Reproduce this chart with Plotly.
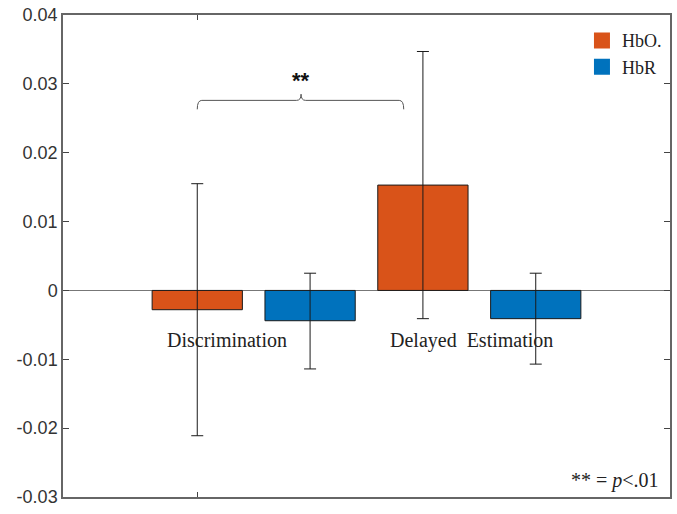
import plotly.graph_objects as go

categories = ["Discrimination", "Delayed  Estimation"]
series_names = ["HbO.", "HbR"]
hbo_values = [-0.0028, 0.0153]
hbo_err_plus = [0.0183, 0.0194]
hbo_err_minus = [0.0183, 0.0194]
hbr_values = [-0.0044, -0.0041]
hbr_err_plus = [0.0069, 0.0066]
hbr_err_minus = [0.0070, 0.0066]
y_ticks = [-0.03, -0.02, -0.01, 0, 0.01, 0.02, 0.03, 0.04]
y_tick_labels = ["-0.03", "-0.02", "-0.01", "0", "0.01", "0.02", "0.03", "0.04"]
sig_label = "<b>**</b>"
sig_note = "** = <i>p</i>&lt;.01"

colors = ["#D95319", "#0072BD"]
n_series = 2

fig = go.Figure()
all_vals = [hbo_values, hbr_values]
all_plus = [hbo_err_plus, hbr_err_plus]
all_minus = [hbo_err_minus, hbr_err_minus]
for s in range(n_series):
    xs = [n_series * i + s for i in range(len(categories))]
    fig.add_trace(go.Bar(
        x=xs, y=all_vals[s], width=0.8, name=series_names[s],
        marker=dict(color=colors[s], line=dict(color="#1a1a1a", width=1)),
        error_y=dict(type="data", array=all_plus[s], arrayminus=all_minus[s],
                     color="#1a1a1a", thickness=1, width=6),
        showlegend=False,
    ))
    fig.add_trace(go.Scatter(
        x=[None], y=[None], mode="markers", name=series_names[s],
        marker=dict(symbol="square", size=18, color=colors[s]),
    ))

# category labels
label_x = [0.26, 2.43]
for c, lx in zip(categories, label_x):
    fig.add_annotation(x=lx, y=-0.0072, text=c.replace("  ", "&nbsp; "), showarrow=False,
                       font=dict(family="Liberation Serif", size=20, color="#222"),
                       xanchor="center", yanchor="middle")

# significance bracket
bx0, bx1, bmid = 0.0, 1.83, 0.92
by, bdrop, btop = 0.0276, 0.0263, 0.0285
path = (f"M {bx0},{bdrop} Q {bx0},{by} {bx0+0.04},{by} "
        f"L {bmid-0.04},{by} Q {bmid},{by} {bmid},{btop} "
        f"Q {bmid},{by} {bmid+0.04},{by} "
        f"L {bx1-0.04},{by} Q {bx1},{by} {bx1},{bdrop}")
fig.add_shape(type="path", path=path, line=dict(color="#555", width=1),
              xref="x", yref="y")
fig.add_annotation(x=bmid, y=0.0305, text=sig_label, showarrow=False,
                   font=dict(family="Liberation Sans", size=22, color="#111"),
                   xanchor="center", yanchor="middle")
fig.add_annotation(x=0.985, y=0.035, xref="paper", yref="paper", text=sig_note,
                   showarrow=False, xanchor="right", yanchor="middle",
                   font=dict(family="Liberation Serif", size=20, color="#222"))

fig.update_layout(
    width=677, height=514,
    margin=dict(l=63, r=5, t=13, b=17),
    plot_bgcolor="white", paper_bgcolor="white",
    barmode="overlay",
    showlegend=True,
    legend=dict(x=0.995, y=0.985, xanchor="right", yanchor="top",
                bgcolor="rgba(0,0,0,0)", borderwidth=0,
                font=dict(family="Liberation Serif", size=18, color="#222"),
                itemwidth=30, tracegroupgap=2),
    xaxis=dict(range=[-1.19, 4.19], tickvals=[0], ticktext=[""],
               ticks="inside", ticklen=5, tickcolor="#444",
               showgrid=False, zeroline=False, showline=True,
               linecolor="#666", linewidth=1.5, mirror="allticks"),
    yaxis=dict(range=[-0.03, 0.04], tickvals=y_ticks, ticktext=y_tick_labels,
               ticks="inside", ticklen=6, tickcolor="#444",
               tickfont=dict(family="Liberation Sans", size=18, color="#333"),
               showgrid=False, zeroline=True, zerolinecolor="#777",
               zerolinewidth=1, showline=True, linecolor="#666",
               linewidth=1.5, mirror="allticks"),
)

fig.write_html("out.html", config={"displayModeBar": False},
               post_script="document.body.style.margin='0';document.body.style.overflow='hidden';")
